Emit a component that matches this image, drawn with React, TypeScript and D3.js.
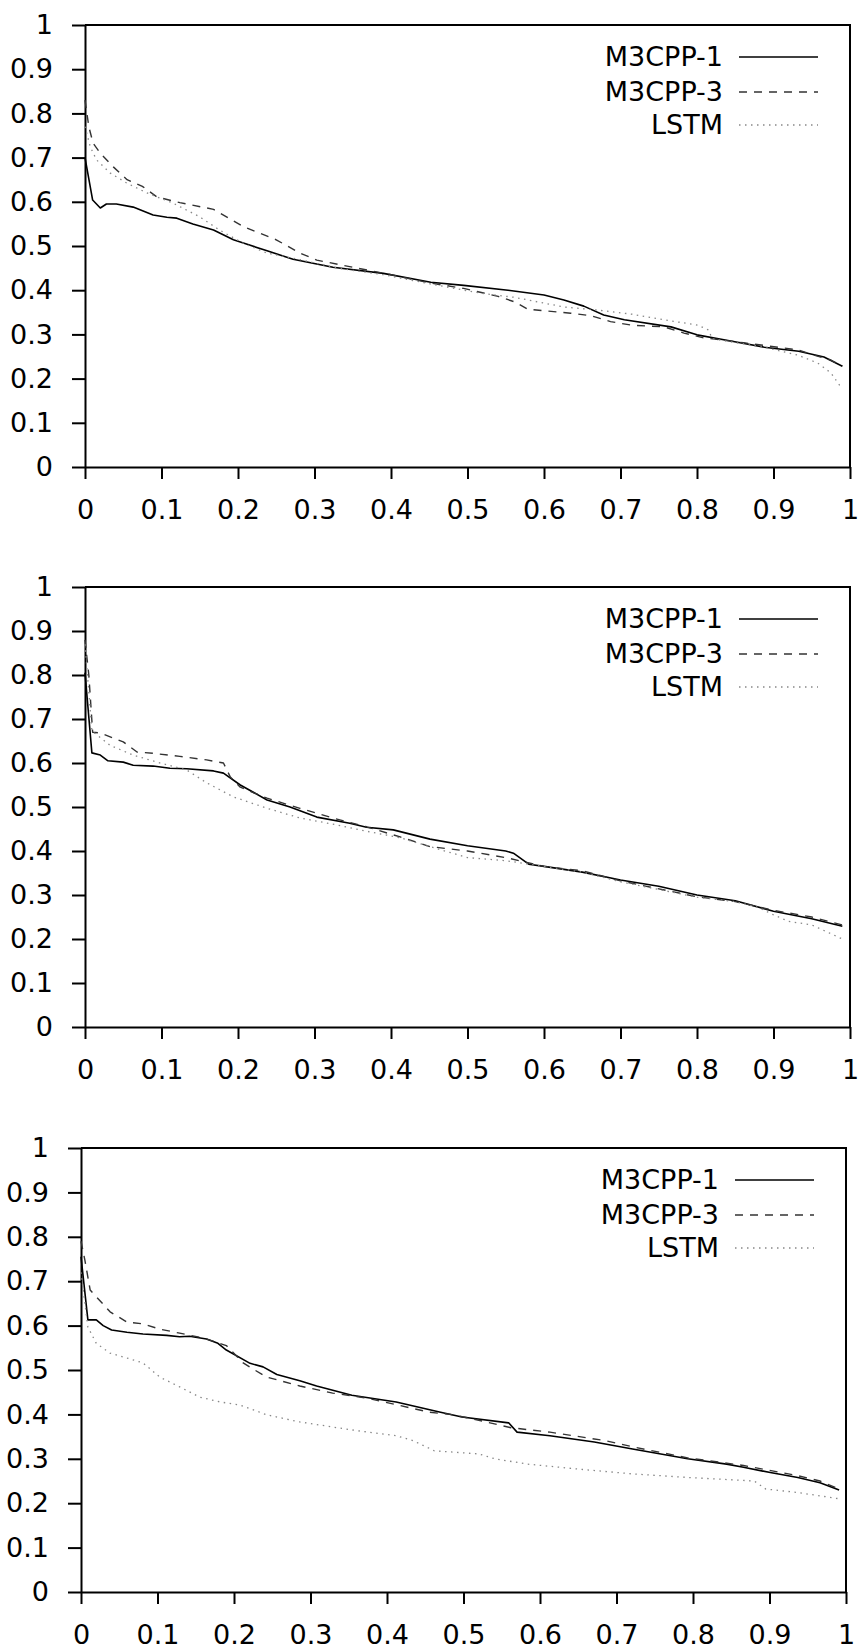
import React, { useRef, useEffect } from "react";
import * as d3 from "d3";

type Pt = [number, number];

const seriesNames = ["M3CPP-1", "M3CPP-3", "LSTM"];
const xTicks = [0, 0.1, 0.2, 0.3, 0.4, 0.5, 0.6, 0.7, 0.8, 0.9, 1];
const yTicks = [0, 0.1, 0.2, 0.3, 0.4, 0.5, 0.6, 0.7, 0.8, 0.9, 1];
const tickLabels = ["0", "0.1", "0.2", "0.3", "0.4", "0.5", "0.6", "0.7", "0.8", "0.9", "1"];

// panel 1
const p1M1: Pt[] = [[0,0.70],[0.01,0.604],[0.02,0.586],[0.028,0.595],[0.041,0.595],[0.063,0.588],[0.089,0.57],[0.107,0.565],[0.12,0.563],[0.141,0.55],[0.168,0.536],[0.194,0.514],[0.21,0.505],[0.238,0.489],[0.272,0.47],[0.324,0.452],[0.39,0.438],[0.452,0.418],[0.495,0.411],[0.553,0.40],[0.6,0.389],[0.626,0.378],[0.652,0.364],[0.678,0.344],[0.705,0.333],[0.766,0.317],[0.80,0.299],[0.844,0.285],[0.888,0.271],[0.933,0.262],[0.966,0.249],[0.99,0.228]];
const p1M3: Pt[] = [[0,0.83],[0.005,0.77],[0.0105,0.733],[0.02,0.71],[0.037,0.679],[0.055,0.65],[0.075,0.635],[0.094,0.611],[0.124,0.598],[0.168,0.583],[0.207,0.544],[0.25,0.514],[0.281,0.484],[0.303,0.468],[0.35,0.452],[0.4,0.435],[0.452,0.416],[0.495,0.404],[0.54,0.386],[0.561,0.374],[0.579,0.357],[0.635,0.348],[0.662,0.342],[0.687,0.329],[0.714,0.321],[0.757,0.317],[0.783,0.303],[0.809,0.292],[0.835,0.287],[0.861,0.281],[0.932,0.265],[0.953,0.253],[0.975,0.242],[0.99,0.228]];
const p1Lstm: Pt[] = [[0,0.77],[0.007,0.724],[0.015,0.695],[0.033,0.665],[0.055,0.642],[0.081,0.62],[0.115,0.597],[0.15,0.566],[0.176,0.536],[0.207,0.506],[0.238,0.484],[0.281,0.469],[0.33,0.45],[0.39,0.435],[0.452,0.414],[0.518,0.393],[0.561,0.384],[0.626,0.362],[0.67,0.355],[0.714,0.346],[0.757,0.333],[0.801,0.321],[0.815,0.31],[0.82,0.29],[0.888,0.271],[0.932,0.253],[0.958,0.235],[0.975,0.213],[0.988,0.181]];

// panel 2
const p2M1: Pt[] = [[0,0.805],[0.009,0.623],[0.02,0.618],[0.03,0.605],[0.05,0.602],[0.063,0.595],[0.089,0.593],[0.111,0.588],[0.133,0.587],[0.168,0.582],[0.181,0.577],[0.203,0.55],[0.238,0.516],[0.268,0.5],[0.303,0.477],[0.346,0.463],[0.368,0.454],[0.403,0.448],[0.451,0.427],[0.5,0.412],[0.55,0.40],[0.56,0.395],[0.58,0.37],[0.6,0.365],[0.65,0.352],[0.7,0.334],[0.75,0.32],[0.8,0.30],[0.85,0.287],[0.9,0.263],[0.95,0.246],[0.99,0.229]];
const p2M3: Pt[] = [[0,0.88],[0.005,0.80],[0.01,0.67],[0.02,0.668],[0.05,0.648],[0.068,0.625],[0.089,0.622],[0.124,0.615],[0.159,0.607],[0.181,0.60],[0.19,0.568],[0.203,0.545],[0.238,0.52],[0.281,0.497],[0.324,0.475],[0.368,0.455],[0.412,0.432],[0.451,0.41],[0.5,0.40],[0.55,0.385],[0.6,0.365],[0.65,0.355],[0.7,0.332],[0.8,0.296],[0.85,0.285],[0.9,0.265],[0.95,0.25],[0.99,0.232]];
const p2Lstm: Pt[] = [[0,0.87],[0.009,0.673],[0.033,0.64],[0.063,0.618],[0.094,0.602],[0.133,0.584],[0.159,0.555],[0.194,0.523],[0.238,0.497],[0.281,0.475],[0.324,0.461],[0.368,0.445],[0.412,0.43],[0.451,0.41],[0.5,0.385],[0.55,0.378],[0.6,0.365],[0.65,0.352],[0.7,0.33],[0.8,0.295],[0.85,0.285],[0.88,0.272],[0.9,0.255],[0.92,0.24],[0.95,0.232],[0.99,0.20]];

// panel 3
const p3M1: Pt[] = [[0,0.755],[0.009,0.613],[0.02,0.613],[0.029,0.60],[0.04,0.59],[0.06,0.585],[0.081,0.581],[0.112,0.578],[0.129,0.575],[0.142,0.576],[0.164,0.57],[0.179,0.56],[0.19,0.545],[0.221,0.515],[0.238,0.507],[0.256,0.49],[0.286,0.476],[0.308,0.464],[0.354,0.443],[0.412,0.428],[0.47,0.405],[0.498,0.394],[0.559,0.381],[0.57,0.36],[0.613,0.352],[0.671,0.338],[0.721,0.322],[0.793,0.30],[0.844,0.288],[0.866,0.281],[0.901,0.269],[0.937,0.258],[0.966,0.246],[0.991,0.23]];
const p3M3: Pt[] = [[0,0.79],[0.005,0.748],[0.012,0.68],[0.02,0.665],[0.038,0.631],[0.06,0.608],[0.081,0.604],[0.103,0.592],[0.129,0.583],[0.16,0.572],[0.19,0.555],[0.212,0.516],[0.225,0.502],[0.243,0.484],[0.286,0.464],[0.329,0.448],[0.373,0.437],[0.417,0.42],[0.455,0.405],[0.483,0.40],[0.512,0.39],[0.562,0.37],[0.613,0.36],[0.685,0.341],[0.721,0.327],[0.793,0.302],[0.866,0.285],[0.937,0.262],[0.966,0.25],[0.991,0.232]];
const p3Lstm: Pt[] = [[0,0.72],[0.009,0.597],[0.02,0.56],[0.038,0.538],[0.06,0.527],[0.081,0.516],[0.103,0.484],[0.129,0.462],[0.155,0.439],[0.182,0.428],[0.208,0.421],[0.243,0.399],[0.286,0.383],[0.354,0.365],[0.412,0.352],[0.434,0.341],[0.462,0.318],[0.52,0.311],[0.541,0.30],[0.584,0.288],[0.649,0.277],[0.721,0.266],[0.793,0.258],[0.88,0.25],[0.895,0.232],[0.937,0.224],[0.991,0.21]];

const lineStyles = [
  { stroke: "#000", width: 1.6, dash: null },
  { stroke: "#333", width: 1.4, dash: "8,7" },
  { stroke: "#888", width: 1.3, dash: "1.5,4.5" },
];

const FONT = "'DejaVu Sans', Verdana, sans-serif";
const FONT_SIZE = 27;

function Panel({ series, left, right, top, bottom }) {
  const gRef = useRef(null);

  useEffect(() => {
    const g = d3.select(gRef.current);
    g.selectAll("*").remove();

    const x = d3.scaleLinear().domain([0, 1]).range([left, right]);
    const y = d3.scaleLinear().domain([0, 1]).range([bottom, top]);

    // y axis
    const yAxis = d3.axisLeft(y).tickValues(yTicks).tickSize(13).tickSizeOuter(0).tickPadding(19)
      .tickFormat((d, i) => tickLabels[i]);
    g.append("g").attr("transform", `translate(${left},0)`).call(yAxis);

    // x axis
    const xAxis = d3.axisBottom(x).tickValues(xTicks).tickSize(12).tickSizeOuter(0).tickPadding(21)
      .tickFormat((d, i) => tickLabels[i]);
    g.append("g").attr("transform", `translate(0,${bottom})`).call(xAxis);

    g.selectAll(".tick text").attr("font-size", FONT_SIZE).attr("font-family", FONT).attr("fill", "#000");
    g.selectAll(".tick line, .domain").attr("stroke", "#000").attr("stroke-width", 2);

    // top and right frame
    g.append("line").attr("x1", left).attr("x2", right + 1).attr("y1", top).attr("y2", top)
      .attr("stroke", "#000").attr("stroke-width", 2);
    g.append("line").attr("x1", right).attr("x2", right).attr("y1", top).attr("y2", bottom)
      .attr("stroke", "#000").attr("stroke-width", 2);

    const line = d3.line<Pt>().x((d) => x(d[0])).y((d) => y(d[1]));

    series.forEach((data, i) => {
      const s = lineStyles[i];
      g.append("path")
        .datum(data)
        .attr("d", line)
        .attr("fill", "none")
        .attr("stroke", s.stroke)
        .attr("stroke-width", s.width)
        .attr("stroke-dasharray", s.dash)
        .attr("stroke-linejoin", "round");
    });

    // legend
    const rows = [top + 32, top + 67, top + 100];
    seriesNames.forEach((name, i) => {
      const s = lineStyles[i];
      g.append("text")
        .attr("x", right - 127)
        .attr("y", rows[i])
        .attr("dy", "0.35em")
        .attr("text-anchor", "end")
        .attr("font-size", FONT_SIZE)
        .attr("font-family", FONT)
        .text(name);
      g.append("line")
        .attr("x1", right - 111)
        .attr("x2", right - 32)
        .attr("y1", rows[i])
        .attr("y2", rows[i])
        .attr("stroke", s.stroke)
        .attr("stroke-width", s.width)
        .attr("stroke-dasharray", s.dash);
    });
  }, [series, left, right, top, bottom]);

  return <g ref={gRef} />;
}

export default function App() {
  return (
    <svg width={862} height={1650} style={{ position: "absolute", left: 0, top: 0, background: "#fff" }}>
      <Panel series={[p1M1, p1M3, p1Lstm]} left={85} right={850} top={25} bottom={467} />
      <Panel series={[p2M1, p2M3, p2Lstm]} left={85} right={850} top={587} bottom={1027} />
      <Panel series={[p3M1, p3M3, p3Lstm]} left={81} right={846} top={1148} bottom={1592} />
    </svg>
  );
}
